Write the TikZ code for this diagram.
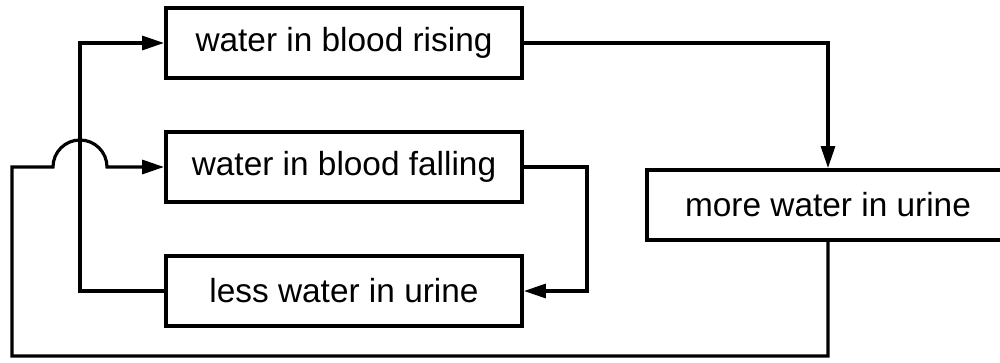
\documentclass[tikz,border=0pt]{standalone}
\usepackage{fontspec}
\setmainfont{Liberation Sans}
\usetikzlibrary{arrows.meta}

\begin{document}
\begin{tikzpicture}[
  box/.style={draw, line width=2.2pt, minimum width=7.12cm, minimum height=1.4cm,
    font=\fontsize{19}{22}\selectfont},
  flow/.style={line width=1.8pt, -{Triangle[length=4.4mm, width=2.8mm]}}
]
  \useasboundingbox (0,0) rectangle (20,-7.24);

  % Boxes
  \node[box] (rising) at (6.88,-0.86) {water in blood rising};
  \node[box] (falling) at (6.88,-3.34) {water in blood falling};
  \node[box] (less) at (6.88,-5.82) {less water in urine};
  \node[box, minimum width=7.24cm] (more) at (16.56,-4.1) {more water in urine};

  % Corners of the loops
  \coordinate (turn) at (1.6,-5.82);
  \coordinate (hop) at (turn |- falling.west);
  \coordinate (base) at (0.24,-7.12);

  % Arrows
  \draw[flow] (rising.east) -| (more.north);
  \draw[flow] (falling.east) -- ++(1.26,0) |- (less.east);
  \draw[flow] (less.west) -- (turn) |- (rising.west);
  \draw[flow] (more.south) |- (base) |- ([xshift=-0.54cm]hop)
    arc[start angle=180, end angle=0, radius=0.54cm] -- (falling.west);
\end{tikzpicture}
\end{document}
